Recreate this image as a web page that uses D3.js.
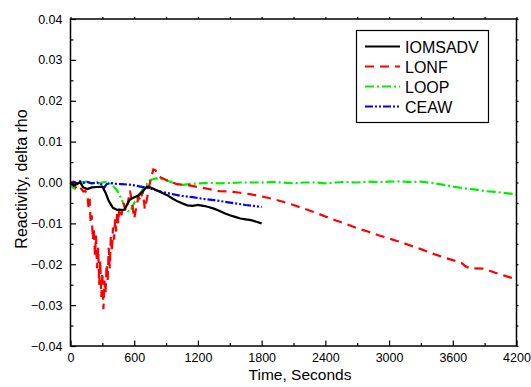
<!DOCTYPE html>
<html>
<head>
<meta charset="utf-8">
<script src="https://cdn.jsdelivr.net/npm/d3@7"></script>
<style>
  body { margin: 0; background: #fff; }
  svg { display: block; font-family: "Liberation Sans", Arial, sans-serif; }
</style>
</head>
<body>
<div id="chart"></div>
<script>
// series values (time in s, reactivity)
const iomsadvT = [0, 30, 60, 90, 120, 160, 200, 250, 300, 330, 360, 400, 440, 480, 510, 530, 560, 600, 640, 680, 720, 760, 810, 860, 910, 960, 1000, 1050, 1100, 1150, 1200, 1250, 1300, 1350, 1400, 1450, 1500, 1550, 1600, 1650, 1700, 1750, 1800];
const iomsadvV = [0, -0.0008, -0.0004, 0.0001, -0.0012, -0.0016, -0.0012, -0.0011, -0.001, -0.0025, -0.0045, -0.0062, -0.0067, -0.0067, -0.0066, -0.0055, -0.0042, -0.0036, -0.0032, -0.0022, -0.001, -0.0013, -0.0019, -0.0025, -0.0031, -0.0039, -0.0045, -0.0051, -0.0056, -0.0057, -0.0055, -0.0057, -0.006, -0.0064, -0.0069, -0.0075, -0.008, -0.0084, -0.0088, -0.009, -0.0092, -0.0096, -0.01];

const lonfT = [0, 20, 40, 60, 80, 100, 120, 140, 160, 170, 180, 190, 200, 210, 220, 230, 240, 250, 260, 270, 280, 290, 300, 310, 320, 330, 340, 350, 360, 370, 380, 390, 400, 410, 420, 430, 440, 450, 460, 480, 500, 520, 540, 560, 580, 600, 620, 640, 660, 680, 700, 720, 740, 760, 780, 800, 820, 850, 900, 950, 1000, 1100, 1200, 1300, 1400, 1500, 1600, 1700, 1800, 1900, 2000, 2100, 2200, 2300, 2400, 2500, 2600, 2700, 2800, 2900, 3000, 3100, 3200, 3300, 3400, 3500, 3600, 3680, 3720, 3760, 3800, 3900, 4000, 4100, 4200];
const lonfV = [0, 0, -0.0008, -0.0016, -0.001, -0.0015, -0.0022, -0.002, -0.0035, -0.006, -0.004, -0.01, -0.008, -0.014, -0.011, -0.018, -0.013, -0.021, -0.016, -0.025, -0.019, -0.028, -0.022, -0.031, -0.024, -0.027, -0.02, -0.024, -0.016, -0.021, -0.013, -0.017, -0.011, -0.014, -0.009, -0.012, -0.007, -0.01, -0.006, -0.008, -0.005, -0.007, -0.005, -0.002, -0.005, -0.0088, -0.006, -0.0035, -0.0045, -0.002, -0.0065, -0.004, -0.001, 0.0012, 0.0032, 0.003, 0.0022, 0.0012, 0.0006, 0.0002, -0.0004, -0.0006, -0.0011, -0.0016, -0.0021, -0.0022, -0.0025, -0.0029, -0.0034, -0.004, -0.0047, -0.0055, -0.0064, -0.0073, -0.0083, -0.0093, -0.0102, -0.0112, -0.012, -0.0129, -0.0137, -0.0145, -0.0154, -0.0163, -0.0173, -0.0182, -0.019, -0.0196, -0.0205, -0.021, -0.021, -0.0211, -0.0221, -0.0229, -0.0237];

const loopT = [0, 20, 40, 60, 100, 150, 200, 250, 300, 350, 400, 440, 480, 510, 540, 560, 600, 650, 700, 750, 810, 870, 940, 1000, 1060, 1150, 1220, 1300, 1400, 1500, 1600, 1700, 1800, 1900, 2000, 2100, 2200, 2300, 2400, 2500, 2600, 2700, 2800, 2900, 3000, 3100, 3200, 3300, 3400, 3500, 3600, 3700, 3800, 3900, 4000, 4100, 4200];
const loopV = [0, -0.0012, -0.0015, -0.0005, 0, 0.0002, 0, -0.0003, 0, 0.0002, -0.0008, -0.002, -0.004, -0.006, -0.007, -0.0071, -0.005, -0.0028, -0.001, 0.0006, 0.001, 0.0008, 0.0002, -0.0004, -0.0006, -0.0003, -0.0002, -0.0001, -0.0002, -0.0001, 0, 0, 0, 0.0001, 0, -0.0002, 0, 0, -0.0002, 0, 0.0001, 0, 0.0002, 0.0001, 0.0002, 0.0003, 0.0001, 0.0002, -0.0001, -0.0005, -0.001, -0.0014, -0.0017, -0.0021, -0.0023, -0.0026, -0.0029];

const ceawT = [0, 30, 60, 90, 120, 160, 200, 250, 300, 320, 340, 370, 420, 480, 540, 600, 660, 720, 780, 850, 950, 1050, 1150, 1250, 1350, 1450, 1550, 1650, 1750, 1800];
const ceawV = [0, 0.0002, -0.0002, 0.0003, -0.0001, 0.0001, -0.0002, 0, -0.0006, -0.0012, -0.0004, -0.0001, -0.0003, -0.0004, -0.0005, -0.0007, -0.001, -0.0013, -0.0017, -0.0022, -0.0028, -0.0033, -0.0036, -0.004, -0.0043, -0.0047, -0.0051, -0.0055, -0.0058, -0.006];

const seriesNames = ['IOMSADV', 'LONF', 'LOOP', 'CEAW'];
const xTicks = [0, 600, 1200, 1800, 2400, 3000, 3600, 4200];
const yTicks = [-0.04, -0.03, -0.02, -0.01, 0, 0.01, 0.02, 0.03, 0.04];

const width = 531, height = 387;
const plotLeft = 70.5, plotRight = 516.5, plotTop = 19, plotBottom = 346;

const svg = d3.select('#chart').append('svg')
  .attr('width', width)
  .attr('height', height);

const x = d3.scaleLinear().domain([0, 4200]).range([plotLeft, plotRight]);
const y = d3.scaleLinear().domain([-0.04, 0.04]).range([plotBottom, plotTop]);

const xMinor = d3.range(300, 4200, 600);
const yMinor = d3.range(-0.035, 0.04, 0.01);

// series
const styles = [
  { color: '#000000', dash: null, w: 2.2 },
  { color: '#ff0000', dash: '9,6', w: 2.2 },
  { color: '#00ee00', dash: '9,3,2,3', w: 2.2 },
  { color: '#0000ff', dash: '8,2,2,2,2,2', w: 2.2 }
];
const series = [
  d3.zip(iomsadvT, iomsadvV),
  d3.zip(lonfT, lonfV),
  d3.zip(loopT, loopV),
  d3.zip(ceawT, ceawV)
];

const line = d3.line().x(d => x(d[0])).y(d => y(d[1]));

// draw order: loop, ceaw, lonf, iomsadv on top
[2, 3, 1, 0].forEach(i => {
  svg.append('path')
    .datum(series[i])
    .attr('fill', 'none')
    .attr('stroke', styles[i].color)
    .attr('stroke-width', styles[i].w)
    .attr('stroke-dasharray', styles[i].dash)
    .attr('d', line);
});

// axes: ticks go inward on bottom/left, small ones outward on top/right
svg.append('g').attr('transform', `translate(0,${plotBottom})`)
  .call(d3.axisBottom(x).tickValues(xTicks).tickSize(-5.5).tickPadding(7).tickFormat(d3.format('d')));
svg.append('g').attr('transform', `translate(0,${plotBottom})`)
  .call(d3.axisBottom(x).tickValues(xMinor).tickSize(-3).tickFormat(''));
svg.append('g').attr('transform', `translate(${plotLeft},0)`)
  .call(d3.axisLeft(y).tickValues(yTicks).tickSize(-5.5).tickPadding(8).tickFormat(d3.format('.2f')));
svg.append('g').attr('transform', `translate(${plotLeft},0)`)
  .call(d3.axisLeft(y).tickValues(yMinor).tickSize(-3).tickFormat(''));
svg.append('g').attr('transform', `translate(0,${plotTop})`)
  .call(d3.axisTop(x).tickValues(xTicks.concat(xMinor)).tickSize(2).tickFormat(''));
svg.append('g').attr('transform', `translate(${plotRight},0)`)
  .call(d3.axisRight(y).tickValues(yTicks.concat(yMinor)).tickSize(2).tickFormat(''));

svg.selectAll('.domain').remove();
svg.selectAll('.tick line').attr('stroke', '#000').attr('stroke-width', 1.2);
svg.selectAll('.tick text').attr('fill', '#000').style('font-size', '12.5px')
  .style('font-family', '"Liberation Sans", Arial, sans-serif');

svg.append('rect')
  .attr('x', plotLeft).attr('y', plotTop)
  .attr('width', plotRight - plotLeft).attr('height', plotBottom - plotTop)
  .attr('fill', 'none').attr('stroke', '#000').attr('stroke-width', 1.5);

// axis titles
svg.append('text')
  .attr('x', 300).attr('y', 380)
  .attr('text-anchor', 'middle')
  .style('font-size', '15.5px')
  .text('Time, Seconds');
svg.append('text')
  .attr('transform', 'translate(27,179) rotate(-90)')
  .attr('text-anchor', 'middle')
  .style('font-size', '16px')
  .text('Reactivity, delta rho');

// legend
const legend = svg.append('g');
legend.append('rect')
  .attr('x', 356.5).attr('y', 30.5).attr('width', 132).attr('height', 92)
  .attr('fill', '#fff').attr('stroke', '#000').attr('stroke-width', 1.2);
seriesNames.forEach((name, i) => {
  const ly = 46.5 + i * 20;
  legend.append('line')
    .attr('x1', 365).attr('x2', 400).attr('y1', ly).attr('y2', ly)
    .attr('stroke', styles[i].color)
    .attr('stroke-width', 2)
    .attr('stroke-dasharray', styles[i].dash);
  legend.append('text')
    .attr('x', 405).attr('y', ly + 6)
    .style('font-size', '16px')
    .text(name);
});
</script>
</body>
</html>
